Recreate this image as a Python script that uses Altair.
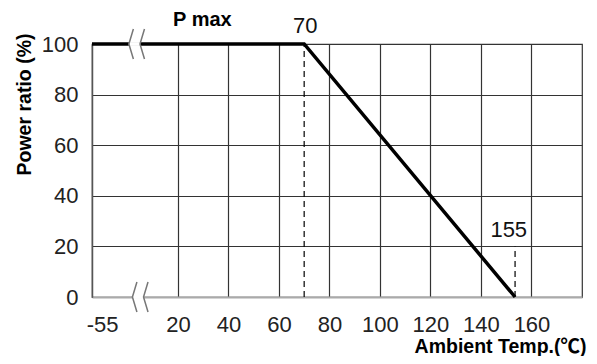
import altair as alt
import pandas as pd

# Derating curve. The temperature axis is broken between -55 and 20:
# display position -14 is the left edge (-55 °C), -10 carries the "-55" label.
curve_x = [-14, 70, 153.5]
curve_y = [100, 100, 0]

x_ticks = [-10, 20, 40, 60, 80, 100, 120, 140, 160]
x_tick_labels = ["-55", "20", "40", "60", "80", "100", "120", "140", "160"]
y_ticks = [0, 20, 40, 60, 80, 100]

dash_x = [70, 153.5]
dash_top = [100, 20]
dash_bottom = [0, 0]

note_text = ["70", "155"]
note_x = [70.4, 151]
note_y = [107, 26.3]

title_text = ["P max"]
title_x = [29.7]
title_y = [109.5]

break_x = [2.8, 4.2]
break_y = [100, 0]

FONT = "Liberation Sans, Arial, Noto Sans CJK SC, sans-serif"
TITLE_FONT = "Liberation Sans, Arial, Noto Sans CJK JP, sans-serif"

label_expr = " : ".join(
    f"datum.value == {v} ? '{t}'" for v, t in zip(x_ticks, x_tick_labels)
) + " : datum.label"

curve_df = pd.DataFrame({"x": curve_x, "y": curve_y})
dash_df = pd.DataFrame({"x": dash_x, "y": dash_bottom, "y2": dash_top})
note_df = pd.DataFrame({"x": note_x, "y": note_y, "t": note_text})
title_df = pd.DataFrame({"x": title_x, "y": title_y, "t": title_text})
break_df = pd.DataFrame({"x": break_x, "y": break_y})

xscale = alt.Scale(domain=[-14, 180], nice=False, zero=False)
yscale = alt.Scale(domain=[0, 100], nice=False)

x_axis = alt.Axis(
    values=x_ticks,
    labelExpr=label_expr,
    grid=True,
    gridColor="#333",
    gridWidth=1.2,
    gridOpacity={"condition": {"test": "datum.value < 0", "value": 0}, "value": 1},
    ticks=False,
    tickSize=0,
    domainColor="#aaa",
    domainWidth=2,
    labelFont=FONT,
    labelFontSize=22,
    labelColor="#222",
    labelPadding=17,
    labelFlush=False,
    title="Ambient Temp.(℃)",
    titleFont=TITLE_FONT,
    titleFontSize=19.5,
    titleFontWeight="bold",
    titleColor="#000",
    titleX=408,
    titleY=49.5,
    titleAlign="center",
    titleBaseline="middle",
)

y_axis = alt.Axis(
    values=y_ticks,
    grid=True,
    gridColor="#333",
    gridWidth=1.2,
    gridOpacity={"condition": {"test": "datum.value == 0 || datum.value == 100", "value": 0}, "value": 1},
    ticks=False,
    tickSize=0,
    domainColor="#555",
    domainWidth=1.5,
    labelFont=FONT,
    labelFontSize=22,
    labelColor="#222",
    labelPadding=14,
    labelFlush=False,
    title="Power ratio (%)",
    titleFont=FONT,
    titleFontSize=19.5,
    titleFontWeight="bold",
    titleColor="#000",
    titleAngle=270,
    titleX=-68,
    titleY=60,
    titleAlign="center",
    titleBaseline="middle",
)

curve = alt.Chart(curve_df).mark_line(color="#000", strokeWidth=3.5, strokeCap="butt").encode(
    x=alt.X("x:Q", scale=xscale, axis=x_axis),
    y=alt.Y("y:Q", scale=yscale, axis=y_axis),
)

dashes = alt.Chart(dash_df).mark_rule(color="#000", strokeWidth=1.2, strokeDash=[6, 4]).encode(
    x=alt.X("x:Q", scale=xscale),
    y=alt.Y("y:Q", scale=yscale),
    y2="y2:Q",
)

mask = alt.Chart(break_df).mark_point(
    shape="M -0.37 -0.13 L 0.37 -0.13 L 0.37 0.13 L -0.37 0.13 Z",
    filled=True, fill="#fff", strokeWidth=0, opacity=1, size=900,
).encode(x=alt.X("x:Q", scale=xscale), y=alt.Y("y:Q", scale=yscale))

breaks = alt.Chart(break_df).mark_point(
    shape="M -0.07 -1 L -0.37 0 L -0.07 1 M 0.67 -1 L 0.37 0 L 0.67 1",
    filled=False, stroke="#777", strokeWidth=1.5, opacity=1, size=900,
).encode(x=alt.X("x:Q", scale=xscale), y=alt.Y("y:Q", scale=yscale))

notes = alt.Chart(note_df).mark_text(
    font=FONT, fontSize=22, color="#111", align="center", baseline="middle"
).encode(x=alt.X("x:Q", scale=xscale), y=alt.Y("y:Q", scale=yscale), text="t:N")

pmax = alt.Chart(title_df).mark_text(
    font=FONT, fontSize=20, fontWeight="bold", color="#000", align="center", baseline="middle"
).encode(x=alt.X("x:Q", scale=xscale), y=alt.Y("y:Q", scale=yscale), text="t:N")

chart = alt.layer(curve, dashes, mask, breaks, notes, pmax).properties(
    width=490,
    height=253,
    padding={"left": 84, "top": 36, "right": 7, "bottom": 59},
    autosize=alt.AutoSizeParams(type="none"),
    background="#ffffff",
).configure_view(stroke="#333", strokeWidth=1.2)

chart.save("out.html", embed_options={"renderer": "svg", "actions": False})
